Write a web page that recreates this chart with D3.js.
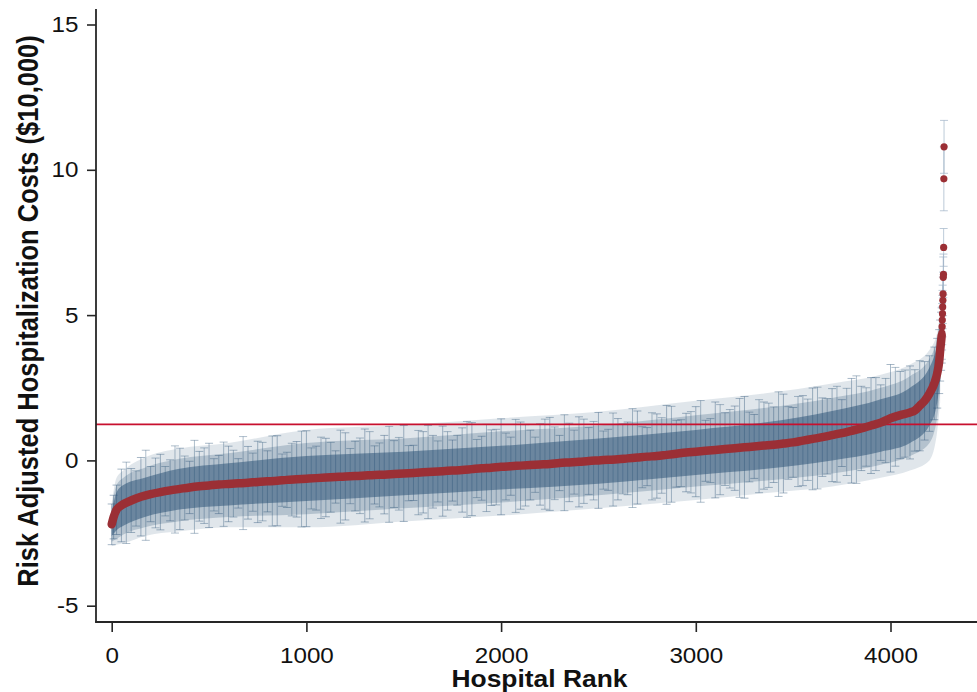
<!DOCTYPE html>
<html>
<head>
<meta charset="utf-8">
<script src="https://cdn.jsdelivr.net/npm/d3@7"></script>
<style>
html,body{margin:0;padding:0;background:#fff;}
svg{display:block;font-family:"Liberation Sans",Arial,sans-serif;}
</style>
</head>
<body>
<svg id="chart" width="977" height="692"></svg>
<script>
// ---- Data ----
const sampleRank = [0,10,25,50,100,150,200,250,300,350,400,450,500,550,600,650,700,750,800,850,900,950,1000,1050,1100,1150,1200,1250,1300,1350,1400,1450,1500,1550,1600,1650,1700,1750,1800,1850,1900,1950,2000,2050,2100,2150,2200,2250,2300,2350,2400,2450,2500,2550,2600,2650,2700,2750,2800,2850,2900,2950,3000,3050,3100,3150,3200,3250,3300,3350,3400,3450,3500,3550,3600,3650,3700,3750,3800,3850,3900,3950,4000,4050,4100,4125,4150,4175,4200,4225,4240,4250,4255,4260,4263];
const sampleEst = [-2.20,-1.95,-1.70,-1.55,-1.38,-1.25,-1.16,-1.09,-1.03,-0.98,-0.93,-0.89,-0.86,-0.83,-0.81,-0.79,-0.77,-0.74,-0.72,-0.70,-0.67,-0.65,-0.63,-0.61,-0.59,-0.57,-0.55,-0.54,-0.52,-0.50,-0.49,-0.47,-0.45,-0.43,-0.41,-0.39,-0.37,-0.35,-0.33,-0.30,-0.27,-0.25,-0.22,-0.20,-0.18,-0.16,-0.14,-0.12,-0.09,-0.07,-0.05,-0.02,0.00,0.02,0.04,0.07,0.10,0.13,0.15,0.19,0.23,0.27,0.30,0.33,0.36,0.39,0.42,0.45,0.48,0.51,0.54,0.58,0.62,0.68,0.74,0.80,0.87,0.94,1.02,1.10,1.20,1.30,1.45,1.56,1.65,1.72,1.88,2.05,2.30,2.65,3.00,3.40,3.78,4.10,4.30];
const sampleHalf = [0.70,0.75,0.85,1.25,1.10,1.35,0.95,1.30,1.05,1.40,
  0.90,1.20,1.45,1.00,1.30,0.85,1.25,1.40,1.05,1.55,
  0.95,1.30,1.65,1.10,1.35,0.90,1.50,1.20,1.60,1.00,
  1.35,1.15,1.65,0.95,1.40,1.25,1.55,1.05,1.45,1.60,
  1.10,1.30,1.65,1.00,1.50,1.20,1.40,1.60,0.95,1.35,
  1.55,1.15,1.65,1.05,1.40,1.25,1.60,1.00,1.45,1.70,
  1.15,1.35,1.55,1.05,1.65,1.25,1.45,1.75,1.10,1.50,
  1.30,1.70,1.20,1.55,1.75,1.35,1.60,1.15,1.80,1.45,
  1.65,1.30,1.85,1.50,1.60,1.40,1.55,1.35,1.30,1.25,
  1.20,1.10,1.05,1.00,0.95];

// further hospitals between the samples above
const sampleRank2 = [75,125,175,225,275,325,375,425,475,525,575,625,675,725,775,825,875,925,975,1025,1075,1125,1175,1225,1275,1325,1375,1425,1475,1525,1575,1625,1675,1725,1775,1825,1875,1925,1975,2025,2075,2125,2175,2225,2275,2325,2375,2425,2475,2525,2575,2625,2675,2725,2775,2825,2875,2925,2975,3025,3075,3125,3175,3225,3275,3325,3375,3425,3475,3525,3575,3625,3675,3725,3775,3825,3875,3925,3975,4025,4075];
const sampleEst2 = [-1.46,-1.31,-1.20,-1.12,-1.06,-1.00,-0.95,-0.91,-0.87,-0.84,-0.82,-0.80,-0.78,-0.75,-0.73,-0.71,-0.68,-0.66,-0.64,-0.62,-0.60,-0.58,-0.56,-0.54,-0.53,-0.51,-0.50,-0.48,-0.46,-0.44,-0.42,-0.40,-0.38,-0.36,-0.34,-0.31,-0.28,-0.26,-0.23,-0.21,-0.19,-0.17,-0.15,-0.13,-0.10,-0.08,-0.06,-0.03,-0.01,0.01,0.03,0.05,0.08,0.11,0.14,0.17,0.21,0.25,0.28,0.31,0.34,0.37,0.40,0.43,0.46,0.49,0.52,0.56,0.60,0.65,0.71,0.77,0.83,0.90,0.98,1.06,1.15,1.25,1.37,1.50,1.61];
const sampleHalf2 = [1.40,0.95,1.55,1.20,0.85,1.50,1.10,1.60,1.30,0.90,
  1.45,1.15,1.60,1.00,1.35,1.55,0.90,1.25,1.65,1.05,
  1.40,1.20,1.60,0.95,1.30,1.50,1.10,1.65,1.25,0.95,
  1.45,1.60,1.05,1.35,1.20,1.65,1.00,1.50,1.30,1.15,
  1.60,1.40,0.95,1.55,1.25,1.65,1.10,1.45,1.35,1.00,
  1.60,1.20,1.70,1.05,1.50,1.30,1.65,1.15,1.40,1.75,
  1.10,1.55,1.35,1.70,1.20,1.60,1.45,1.80,1.25,1.55,
  1.40,1.75,1.30,1.65,1.50,1.85,1.35,1.60,1.45,1.70,
  1.50];

// extreme hospitals at the top of the ranking
const tailRank = [4264,4265,4266,4267,4268,4269,4270,4271,4272,4273,4274,4275];
const tailEst  = [4.38,4.60,4.83,5.05,5.28,5.51,5.73,6.30,6.40,7.33,9.69,10.79];
const tailHalf = [0.90,0.80,0.85,0.80,0.75,0.80,0.75,0.70,0.70,0.65,1.10,0.91];

// spread of the overlapping confidence intervals
const bandRank    = [0,25,60,170,340,600,1000,1500,2000,2500,3000,3350,3700,3950,4100,4200,4240,4255];
const bandOuterLo = [-2.95,-2.90,-2.85,-2.60,-2.45,-2.30,-2.30,-2.10,-1.90,-1.65,-1.36,-1.13,-0.90,-0.60,-0.35,0.00,1.00,2.00];
const bandOuterHi = [-1.45,-0.60,-0.35,0.10,0.40,0.60,1.05,1.22,1.45,1.67,2.05,2.30,2.65,2.95,3.30,3.80,4.40,5.00];
const bandMidLo   = [-2.80,-2.70,-2.55,-2.30,-2.10,-1.95,-1.85,-1.65,-1.45,-1.20,-0.90,-0.70,-0.45,-0.15,0.15,0.60,1.50,2.40];
const bandMidHi   = [-1.60,-0.85,-0.60,-0.25,0.05,0.25,0.60,0.75,1.00,1.20,1.55,1.80,2.15,2.50,2.90,3.50,4.20,4.80];
const bandInnerLo = [-2.60,-2.40,-2.25,-1.95,-1.70,-1.55,-1.40,-1.20,-1.00,-0.80,-0.50,-0.30,0.00,0.30,0.60,1.20,2.00,2.80];
const bandInnerHi = [-1.80,-1.10,-0.85,-0.60,-0.30,-0.10,0.15,0.30,0.50,0.75,1.05,1.30,1.70,2.10,2.50,3.20,4.00,4.60];

const refLine = 1.24;
const xTicks = [0,1000,2000,3000,4000];
const yTicks = [-5,0,5,10,15];
const xTitle = "Hospital Rank";
const yTitle = "Risk Adjusted Hospitalization Costs ($10,000)";

// ---- Drawing ----
const svg = d3.select("#chart");
const x = d3.scaleLinear().domain([0,4000]).range([111.7,890.5]);
const y = d3.scaleLinear().domain([-5,15]).range([605.7,24.5]);
const axisX = 96, axisY = 622;

const plot = svg.append("g");
const blue = "#2f5679";

function band(lo, hi, op){
  const data = bandRank.map((r,i)=>({r, lo:lo[i], hi:hi[i]}));
  plot.append("path").datum(data)
    .attr("d", d3.area().x(d=>x(d.r)).y0(d=>y(d.lo)).y1(d=>y(d.hi)).curve(d3.curveMonotoneX))
    .attr("fill", blue).attr("fill-opacity", op);
}
band(bandOuterLo, bandOuterHi, 0.15);
band(bandMidLo, bandMidHi, 0.25);
band(bandInnerLo, bandInnerHi, 0.55);

// error bars
const toBars = (R,E,Hw) => R.map((r,i)=>({r, lo:E[i]-Hw[i], hi:E[i]+Hw[i]}));
function drawBars(data, color, op){
  const g = plot.append("g").attr("stroke", color).attr("stroke-opacity", op).attr("stroke-width", 1);
  g.selectAll("line.v").data(data).join("line").attr("class","v")
    .attr("x1",d=>x(d.r)).attr("x2",d=>x(d.r)).attr("y1",d=>y(d.lo)).attr("y2",d=>y(d.hi));
  g.selectAll("line.l").data(data).join("line").attr("class","l")
    .attr("x1",d=>x(d.r)-4).attr("x2",d=>x(d.r)+4).attr("y1",d=>y(d.lo)).attr("y2",d=>y(d.lo));
  g.selectAll("line.h").data(data).join("line").attr("class","h")
    .attr("x1",d=>x(d.r)-4).attr("x2",d=>x(d.r)+4).attr("y1",d=>y(d.hi)).attr("y2",d=>y(d.hi));
}
drawBars(toBars(sampleRank2, sampleEst2, sampleHalf2), blue, 0.38);
drawBars(toBars(sampleRank, sampleEst, sampleHalf), blue, 0.42);
drawBars(toBars(tailRank, tailEst, tailHalf), "#9fb4c8", 0.7);

// reference line
svg.append("line").attr("x1",axisX).attr("x2",977).attr("y1",y(refLine)).attr("y2",y(refLine))
  .attr("stroke","#c8102e").attr("stroke-width",1.6);

// estimates
const red = "#9b2f35";
const est = sampleRank.map((r,i)=>({r, v:sampleEst[i]}));
svg.append("path").datum(est)
  .attr("d", d3.line().x(d=>x(d.r)).y(d=>y(d.v)).curve(d3.curveMonotoneX))
  .attr("fill","none").attr("stroke",red).attr("stroke-width",8.5)
  .attr("stroke-linecap","round").attr("stroke-linejoin","round");
svg.selectAll("circle.tail").data(tailRank.map((r,i)=>({r, v:tailEst[i]}))).join("circle")
  .attr("class","tail").attr("cx",d=>x(d.r)).attr("cy",d=>y(d.v)).attr("r",3.6).attr("fill",red);

// axes
const fmt = d => String(d);
const gx = svg.append("g").attr("transform",`translate(0,${axisY})`)
  .call(d3.axisBottom(x).tickValues(xTicks).tickFormat(fmt).tickSize(10).tickPadding(15));
gx.select(".domain").remove();
gx.selectAll(".tick line").attr("stroke","#262626").attr("stroke-width",1.6);
gx.selectAll(".tick text").attr("fill","#111").attr("font-size",22)
  .attr("font-family","'Liberation Sans',Arial,sans-serif").attr("transform","scale(1.1,1)");

const gy = svg.append("g").attr("transform",`translate(${axisX},0)`)
  .call(d3.axisLeft(y).tickValues(yTicks).tickFormat(fmt).tickSize(9).tickPadding(7));
gy.select(".domain").remove();
gy.selectAll(".tick line").attr("stroke","#262626").attr("stroke-width",1.6);
gy.selectAll(".tick text").attr("fill","#111").attr("font-size",22)
  .attr("font-family","'Liberation Sans',Arial,sans-serif").attr("transform","scale(1.1,1)");

svg.append("line").attr("x1",axisX).attr("x2",axisX).attr("y1",9).attr("y2",axisY+0.8)
  .attr("stroke","#262626").attr("stroke-width",1.8);
svg.append("line").attr("x1",axisX-0.8).attr("x2",977).attr("y1",axisY).attr("y2",axisY)
  .attr("stroke","#262626").attr("stroke-width",1.8);

svg.append("text").text(xTitle)
  .attr("transform",`translate(${(452+627)/2},687) scale(1.1,1)`)
  .attr("text-anchor","middle").attr("font-weight","bold").attr("font-size",24).attr("fill","#111");
svg.append("text").text(yTitle)
  .attr("transform",`translate(38,311) scale(1.15,1) rotate(-90)`)
  .attr("text-anchor","middle").attr("font-weight","bold").attr("font-size",25.5).attr("fill","#111");
</script>
</body>
</html>
